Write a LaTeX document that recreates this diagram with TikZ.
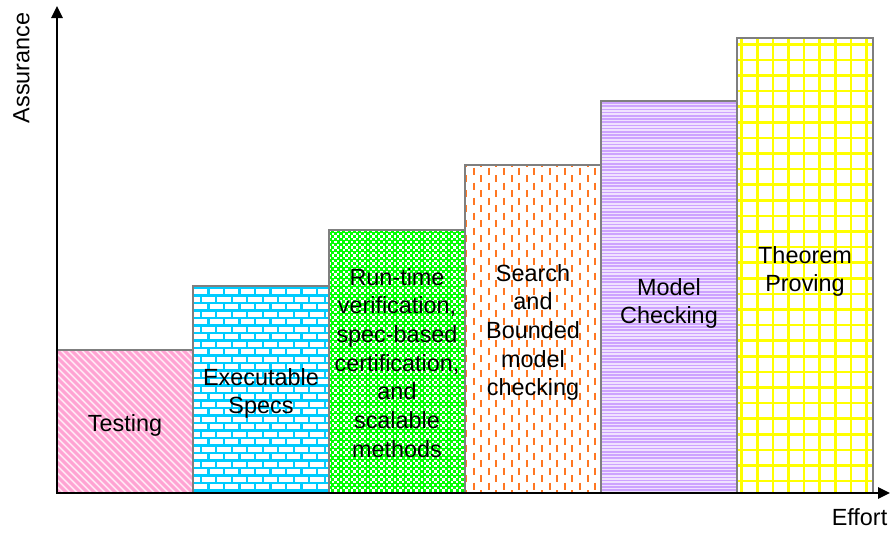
\documentclass[tikz,border=0pt]{standalone}
\usepackage{fontspec}
\setmainfont{Liberation Sans}
\usetikzlibrary{arrows.meta}
\definecolor{pinkS}{HTML}{FFA3D3}
\definecolor{pinkB}{HTML}{FFE8F4}
\definecolor{brickC}{HTML}{00CCFF}
\definecolor{grnC}{HTML}{00FF00}
\definecolor{orngC}{HTML}{FF7722}
\definecolor{purS}{HTML}{CDA3FF}
\definecolor{purB}{HTML}{F0E2FF}
\definecolor{yelC}{HTML}{FFFF00}
\definecolor{bordC}{HTML}{7F7F7F}
\begin{document}
\begin{tikzpicture}[x=1pt,y=-1pt,
  lbl/.style={font=\fontsize{23.4}{28.7}\selectfont, align=center, anchor=north, inner sep=0pt, text=black},
  axlbl/.style={font=\fontsize{23.4}{28.7}\selectfont, inner sep=0pt, text=black},
  barline/.style={draw=bordC, line width=1.3pt},
  axis/.style={line width=2.6pt, line join=miter, {Triangle[length=12pt,width=11pt]}-{Triangle[length=12pt,width=11pt]}}]
\useasboundingbox (0,0) rectangle (890,533);

% Testing: pink diagonal stripes
\begin{scope}
\clip (57,350) rectangle (193,493);
\fill[pinkB] (57,350) rectangle (193,493);
\foreach \i in {-154,-147,...,140} \draw[pinkS, line width=3pt] (57+\i,350) -- ++(150,150);
\end{scope}

% Executable Specs: cyan bricks
\begin{scope}
\clip (193,286) rectangle (329,493);
\fill[white] (193,286) rectangle (329,493);
\foreach \k in {-1,0,...,28} {
  \pgfmathsetmacro{\yy}{288+\k*7.5}
  \pgfmathsetmacro{\off}{mod(\k+2,2)*7.75}
  \draw[brickC, line width=2.4pt] (193,\yy) -- (329,\yy);
  \foreach \m in {-1,0,...,9} \draw[brickC, line width=2.4pt] (193+\off+\m*15.5,\yy) -- ++(0,7.5);
}
\end{scope}

% Run-time: green checker
\begin{scope}
\clip (329,230) rectangle (465,493);
\fill[grnC] (329,230) rectangle (465,493);
\foreach \i in {0,...,25} \foreach \j in {0,...,48} {
  \fill[white] (329+\i*5.4,230+\j*5.4) rectangle ++(2.3,2.3);
  \fill[white] (331.7+\i*5.4,232.7+\j*5.4) rectangle ++(2.3,2.3);
}
\end{scope}

% Search: orange vertical dashes
\begin{scope}
\clip (465,165) rectangle (601,493);
\fill[white] (465,165) rectangle (601,493);
\foreach \c in {0,...,17} {
  \pgfmathsetmacro{\xx}{466+\c*7.6}
  \pgfmathsetmacro{\yo}{160+mod(\c,2)*7.5}
  \foreach \r in {0,...,22} \draw[orngC, line width=2pt] (\xx,\yo+\r*15) -- ++(0,7);
}
\end{scope}

% Model Checking: purple horizontal lines
\begin{scope}
\clip (601,101) rectangle (737,493);
\fill[purB] (601,101) rectangle (737,493);
\foreach \n in {0,...,123} \draw[purS, line width=1.6pt] (601,103+\n*3.2) -- (737,103+\n*3.2);
\end{scope}

% Theorem Proving: yellow grid
\begin{scope}
\clip (737,38) rectangle (873,493);
\fill[white] (737,38) rectangle (873,493);
\foreach \m in {0,...,8} \draw[yelC, line width=2.5pt] (741.7+\m*15.6,38) -- (741.7+\m*15.6,493);
\foreach \n in {0,...,29} \draw[yelC, line width=2.5pt] (737,44.3+\n*15.6) -- (873,44.3+\n*15.6);
\end{scope}

% bar outlines
\draw[barline] (57,350) rectangle (193,493);
\draw[barline] (193,286) rectangle (329,493);
\draw[barline] (329,230) rectangle (465,493);
\draw[barline] (465,165) rectangle (601,493);
\draw[barline] (601,101) rectangle (737,493);
\draw[barline] (737,38) rectangle (873,493);

% labels
\node[lbl] (testing) at (125,414.5) {Testing};
\node[lbl] (exec) at (261,368) {Executable\\Specs};
\node[lbl] (runtime) at (397,268) {Run-time\\verification,\\spec-based\\certification,\\and\\scalable\\methods};
\node[lbl] (search) at (533,264) {Search\\and\\Bounded\\model\\checking};
\node[lbl] (model) at (669,278) {Model\\Checking};
\node[lbl] (theorem) at (805,246) {Theorem\\Proving};

% axes
\coordinate (O) at (57,493);
\coordinate (ytip) at (57,6);
\coordinate (xtip) at (890,493);
\draw[axis] (ytip) -- (O) -- (xtip);
\node[axlbl, rotate=90] (assur) at (21.5,68) {Assurance};
\node[axlbl, anchor=base] (effort) at (859.5,525) {Effort};
\end{tikzpicture}
\end{document}
